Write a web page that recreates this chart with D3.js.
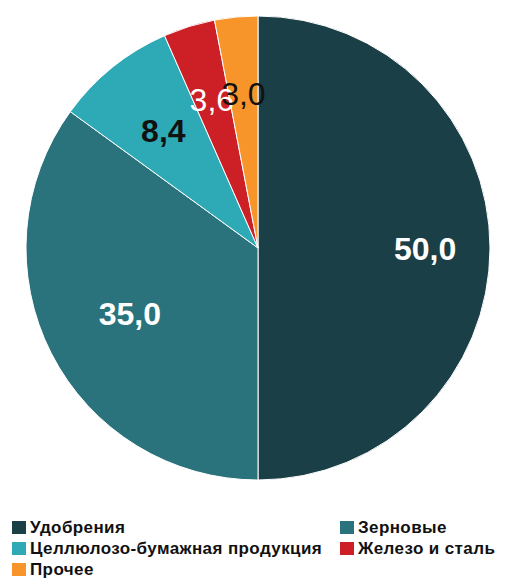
<!DOCTYPE html>
<html>
<head>
<meta charset="utf-8">
<script src="https://cdn.jsdelivr.net/npm/d3@7"></script>
<style>
  body { margin: 0; background: #fff; }
  svg { display: block; font-family: "Liberation Sans", Arial, sans-serif; }
</style>
</head>
<body>
<svg id="chart"></svg>
<script>
// chart data
const categories = ['Удобрения', 'Зерновые', 'Целлюлозо-бумажная продукция', 'Железо и сталь', 'Прочее'];
const values = [50.0, 35.0, 8.4, 3.6, 3.0];
const colors = ['#1b3f47', '#2a737c', '#2eaab6', '#cc1f26', '#f7952b'];

// label look per slice (like the excel "best fit" placement)
const labelRadius = [0.72, 0.62, 0.65, 0.67, 0.67];
const labelFill = ['#fff', '#fff', '#111', '#fff', '#111'];
const labelWeight = ['bold', 'bold', 'bold', 'normal', 'normal'];

const width = 505, height = 578;
const cx = 258, cy = 248, radius = 232;

const svg = d3.select('#chart')
    .attr('width', width)
    .attr('height', height);

const data = categories.map((c, i) => ({name: c, value: values[i], i: i}));

const pie = d3.pie()
    .value(d => d.value)
    .sort(null);

const arcs = pie(data);

const arc = d3.arc()
    .innerRadius(0)
    .outerRadius(radius);

const g = svg.append('g')
    .attr('transform', `translate(${cx},${cy})`);

g.selectAll('.slice')
    .data(arcs)
  .join('path')
    .attr('class', 'slice')
    .attr('d', arc)
    .attr('fill', d => colors[d.data.i])
    .attr('stroke', '#fff')
    .attr('stroke-width', 1);

const fmt = v => d3.format('.1f')(v).replace('.', ',');

g.selectAll('.label')
    .data(arcs)
  .join('text')
    .attr('class', 'label')
    .attr('transform', d => {
      const r = radius * labelRadius[d.data.i];
      const a = (d.startAngle + d.endAngle) / 2;
      return `translate(${r * Math.sin(a)},${-r * Math.cos(a)})`;
    })
    .attr('text-anchor', 'middle')
    .attr('dy', '0.36em')
    .style('font-size', '32px')
    .style('font-weight', d => labelWeight[d.data.i])
    .attr('fill', d => labelFill[d.data.i])
    .text(d => fmt(d.data.value));

// legend, two columns
const legendCols = [12, 340];
const legendTop = 521, legendRow = 21;

const legend = svg.selectAll('.legend-item')
    .data(data)
  .join('g')
    .attr('class', 'legend-item')
    .attr('transform', d => `translate(${legendCols[d.i % 2]},${legendTop + Math.floor(d.i / 2) * legendRow})`);

legend.append('rect')
    .attr('width', 14)
    .attr('height', 13)
    .attr('fill', d => colors[d.i]);

legend.append('text')
    .attr('x', 18)
    .attr('y', 12)
    .style('font-size', '17px')
    .style('letter-spacing', '0.4px')
    .style('font-weight', 'bold')
    .attr('fill', '#111')
    .text(d => d.name);
</script>
</body>
</html>
